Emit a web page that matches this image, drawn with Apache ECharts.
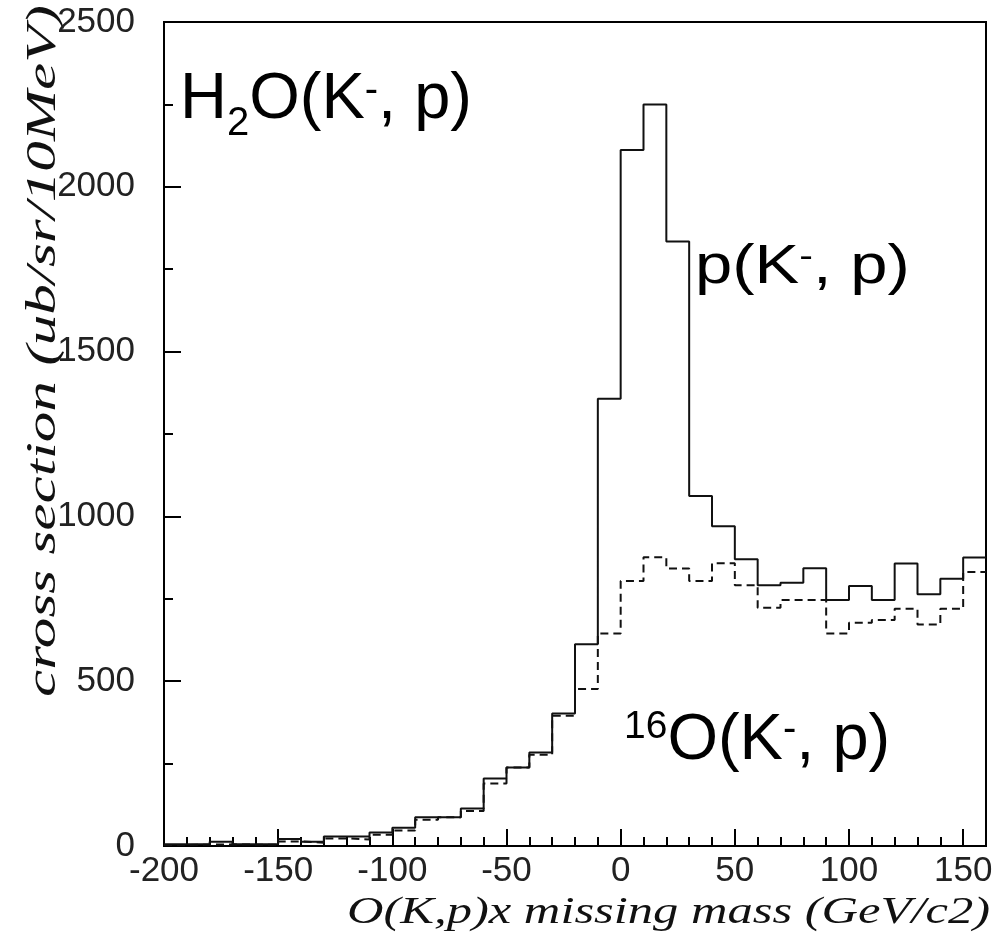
<!DOCTYPE html>
<html>
<head>
<meta charset="utf-8">
<script src="https://cdn.jsdelivr.net/npm/echarts@6/dist/echarts.min.js"></script>
<style>
  html, body { margin: 0; padding: 0; background: #fff; }
  #chart { width: 1003px; height: 932px; }
</style>
</head>
<body>
<div id="chart"></div>
<script>
// ---- data ----
const binWidth = 10;
const binLeft = [-200, -190, -180, -170, -160, -150, -140, -130, -120, -110,
                 -100, -90, -80, -70, -60, -50, -40, -30, -20, -10,
                 0, 10, 20, 30, 40, 50, 60, 70, 80, 90,
                 100, 110, 120, 130, 140, 150];
// H2O(K-, p) : solid histogram
const h2oValues = [5, 6, 13, 5, 6, 21, 13, 29, 29, 41,
                   55, 87, 87, 114, 205, 238, 284, 402, 612, 1357,
                   2112, 2250, 1834, 1062, 970, 870, 791, 799, 843, 746,
                   789, 746, 857, 764, 811, 875];
// 16O(K-, p) : dashed histogram
const o16Values = [3, 4, 5, 4, 4, 14, 10, 23, 20, 34,
                   47, 80, 87, 106, 190, 238, 277, 395, 476, 645,
                   804, 876, 842, 804, 858, 791, 723, 746, 746, 645,
                   677, 686, 720, 672, 720, 831];
const xTitle = 'O(K,p)x missing mass (GeV/c2)';
const yTitle = 'cross section (ub/sr/10MeV)';

// ---- helpers ----
function stepData(vals) {
  const d = binLeft.map((x, i) => [x, vals[i]]);
  d.push([binLeft[binLeft.length - 1] + binWidth, vals[vals.length - 1]]);
  return d;
}
const mctx = document.createElement('canvas').getContext('2d');
function textW(str, font) { mctx.font = font; return mctx.measureText(str).width; }

const SANS = '"Liberation Sans", Arial, sans-serif';
const SERIF = '"Liberation Serif", "Times New Roman", serif';

// a label made of pieces with different sizes / baseline shifts
function pieceLabel(parts, x0, baseline, sx, sy) {
  let cx = 0;
  const children = [];
  parts.forEach(p => {
    const font = p.size + 'px ' + SANS;
    children.push({
      type: 'text', x: cx, y: (p.dy || 0) - 0.3465 * p.size,
      style: { text: p.t, font: font, fill: '#000', align: 'left', verticalAlign: 'middle' }
    });
    cx += textW(p.t, font);
  });
  return { type: 'group', x: x0, y: baseline, scaleX: sx || 1, scaleY: sy || 1, children: children };
}

const xTitleFont = 'italic 38px ' + SERIF;
const yTitleFont = 'italic 42px ' + SERIF;
const xTitleScale = 643 / textW(xTitle, xTitleFont);
const yTitleScale = 692 / textW(yTitle, yTitleFont);

const chart = echarts.init(document.getElementById('chart'));
chart.setOption({
  backgroundColor: '#fff',
  animation: false,
  grid: { left: 164, right: 17, top: 22, bottom: 86, show: true, borderColor: '#000', borderWidth: 2, backgroundColor: 'transparent' },
  xAxis: {
    type: 'value', min: -200, max: 160, interval: 50,
    axisLine: { show: true, onZero: false, lineStyle: { color: '#000', width: 2 } },
    axisTick: { show: true, inside: true, length: 17, lineStyle: { color: '#000', width: 2 } },
    minorTick: { show: true, splitNumber: 5, length: 9, lineStyle: { color: '#000', width: 2 } },
    splitLine: { show: false },
    axisLabel: { show: true, showMaxLabel: false, margin: 8, fontSize: 35, fontFamily: SANS, color: '#222',
                 formatter: v => String(v) }
  },
  yAxis: {
    type: 'value', min: 0, max: 2500, interval: 500,
    axisLine: { show: true, onZero: false, lineStyle: { color: '#000', width: 2 } },
    axisTick: { show: true, inside: true, length: 17, lineStyle: { color: '#000', width: 2 } },
    minorTick: { show: true, splitNumber: 2, length: 9, lineStyle: { color: '#000', width: 2 } },
    splitLine: { show: false },
    axisLabel: { show: true, margin: 29, fontSize: 35, fontFamily: SANS, color: '#222',
                 formatter: v => String(v) }
  },
  series: [
    {
      name: '16O(K-, p)', type: 'line', step: 'end', data: stepData(o16Values),
      symbol: 'none', z: 3,
      lineStyle: { color: '#111', width: 2, type: [8, 5] }
    },
    {
      name: 'H2O(K-, p)', type: 'line', step: 'end', data: stepData(h2oValues),
      symbol: 'none', z: 4,
      lineStyle: { color: '#111', width: 2, type: 'solid' }
    }
  ],
  graphic: [
    // axis titles
    { type: 'text', x: 990, y: 913, scaleX: xTitleScale, scaleY: 1,
      style: { text: xTitle, font: xTitleFont, fill: '#111', align: 'right', verticalAlign: 'middle' } },
    { type: 'text', x: 44, y: 351, rotation: Math.PI / 2, scaleX: yTitleScale, scaleY: 1,
      style: { text: yTitle, font: yTitleFont, fill: '#111', align: 'center', verticalAlign: 'middle' } },
    // annotations
    pieceLabel([
      { t: 'H', size: 65 }, { t: '2', size: 40, dy: 15 }, { t: 'O(K', size: 65 },
      { t: '-', size: 40, dy: -18 }, { t: ', p)', size: 65 }
    ], 180, 123),
    pieceLabel([
      { t: 'p(K', size: 67 }, { t: '-', size: 41, dy: -22 }, { t: ', p)', size: 67 }
    ], 695, 287, 1, 0.82),
    pieceLabel([
      { t: '16', size: 39, dy: -23 }, { t: 'O(K', size: 65 },
      { t: '-', size: 40, dy: -20 }, { t: ', p)', size: 65 }
    ], 624, 764)
  ]
});
</script>
</body>
</html>
